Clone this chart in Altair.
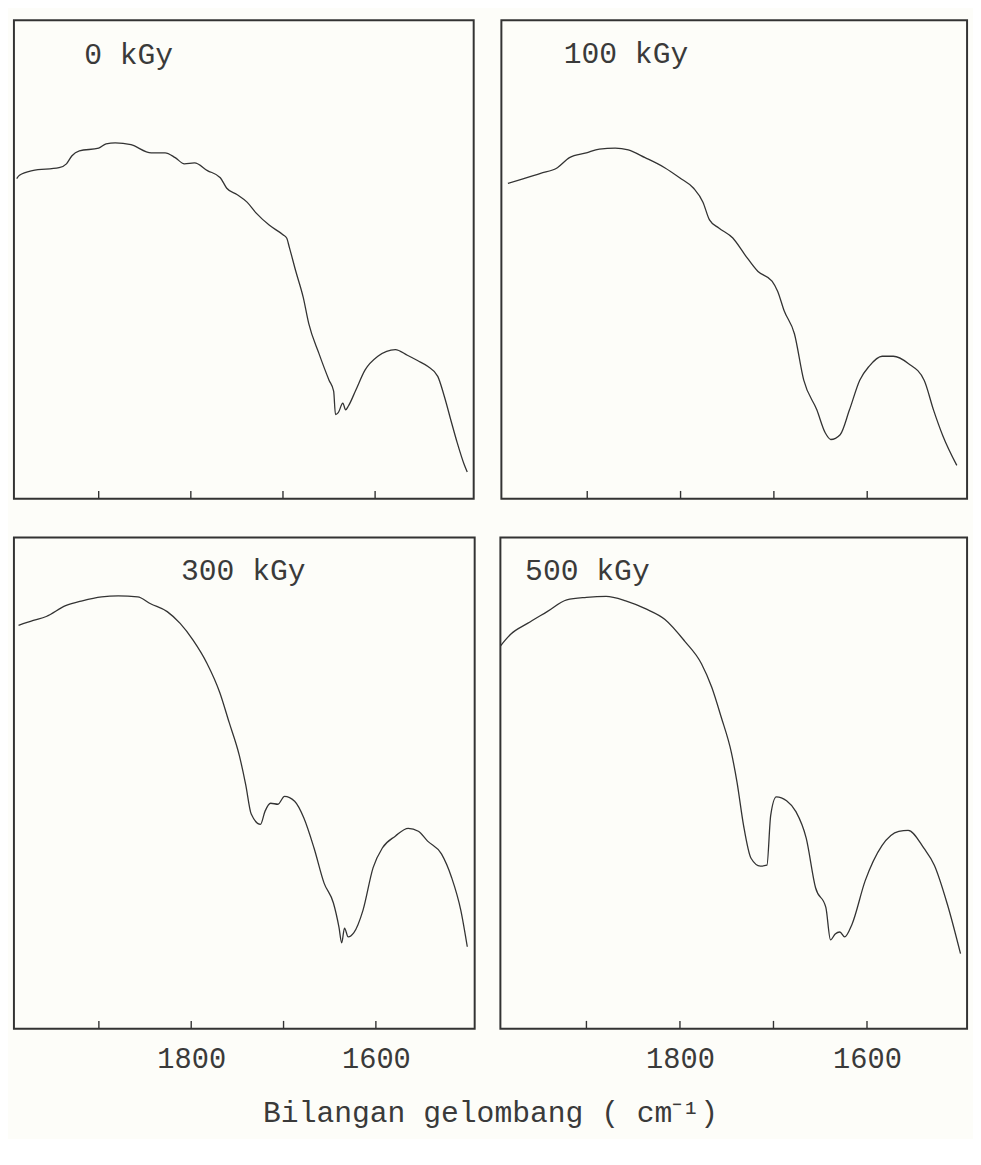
import altair as alt
import pandas as pd

# ---- data (wavenumber cm-1, relative transmittance 0-100) ----
wn_0 = [1989, 1986, 1972, 1943, 1935, 1929, 1921, 1900, 1892, 1882, 1865, 1843, 1828, 1817, 1807,
        1796, 1782, 1768, 1761, 1750, 1739, 1729, 1715, 1700, 1696, 1693, 1686, 1678, 1672, 1661,
        1650, 1645, 1643, 1640, 1635, 1632, 1629, 1621, 1611, 1597, 1578, 1565, 1554, 1543, 1532,
        1525, 1517, 1511, 1503, 1500]
t_0 = [66.9, 67.6, 68.6, 69.2, 70.0, 71.7, 72.7, 73.3, 74.2, 74.4, 74.0, 72.3, 72.3, 71.3, 70.0,
       70.2, 68.6, 67.1, 64.9, 63.6, 62.0, 59.7, 57.2, 55.2, 54.5, 52.5, 47.5, 42.1, 36.6, 30.4,
       24.8, 22.5, 17.6, 18.0, 20.0, 18.6, 19.4, 22.7, 26.9, 29.8, 31.2, 30.0, 28.9, 27.7, 25.6,
       21.5, 15.9, 11.8, 7.0, 5.6]

wn_100 = [1985, 1968, 1950, 1932, 1919, 1901, 1887, 1870, 1856, 1838, 1817, 1801, 1786, 1776, 1769,
          1759, 1744, 1731, 1717, 1702, 1696, 1689, 1678, 1668, 1654, 1645, 1639, 1629, 1619, 1608,
          1598, 1584, 1572, 1556, 1539, 1529, 1519, 1504]
t_100 = [65.9, 66.9, 68.0, 69.2, 71.3, 72.3, 73.1, 73.3, 72.9, 71.3, 69.2, 67.1, 64.9, 62.0, 58.3,
         56.6, 54.5, 51.0, 47.5, 45.5, 43.4, 39.3, 34.5, 24.8, 18.6, 13.8, 12.4, 13.4, 18.6, 24.8,
         27.7, 29.8, 29.8, 28.3, 24.8, 18.6, 13.2, 7.0]

wn_300 = [1987, 1971, 1957, 1936, 1918, 1897, 1879, 1858, 1844, 1826, 1812, 1798, 1783, 1769, 1759,
          1748, 1741, 1735, 1725, 1720, 1714, 1706, 1699, 1688, 1678, 1667, 1656, 1646, 1640, 1637,
          1634, 1630, 1624, 1614, 1603, 1593, 1579, 1565, 1554, 1544, 1529, 1518, 1508, 1501]
t_300 = [82.1, 83.1, 83.9, 86.1, 87.1, 87.9, 88.1, 87.9, 86.5, 84.9, 82.5, 79.1, 74.4, 68.4, 62.4,
         55.7, 49.7, 43.7, 41.6, 44.3, 45.9, 45.7, 47.3, 46.3, 42.9, 36.8, 29.6, 25.6, 20.7, 17.5,
         20.5, 18.7, 19.5, 24.1, 32.8, 36.8, 39.2, 40.8, 40.2, 38.2, 35.6, 30.8, 24.1, 16.7]

wn_500 = [1992, 1981, 1963, 1942, 1921, 1900, 1879, 1858, 1837, 1816, 1795, 1777, 1766, 1756, 1745,
          1739, 1732, 1724, 1714, 1707, 1703, 1697, 1686, 1676, 1665, 1655, 1644, 1639, 1634, 1629,
          1624, 1616, 1602, 1584, 1566, 1556, 1539, 1528, 1514, 1500]
t_500 = [77.9, 80.3, 82.5, 84.9, 87.3, 87.8, 88.0, 87.1, 85.5, 83.3, 78.9, 74.3, 69.5, 63.5, 56.2,
         50.2, 41.4, 34.7, 33.1, 33.3, 43.4, 47.2, 46.4, 44.2, 38.8, 28.7, 24.7, 18.1, 19.3, 19.7,
         18.7, 21.3, 30.1, 37.3, 40.2, 40.4, 36.7, 33.3, 25.3, 15.3]

tick_values = [1900, 1800, 1700, 1600]
label_values = [1800, 1600]
panel_labels = ["0 kGy", "100 kGy", "300 kGy", "500 kGy"]
x_title = "Bilangan gelombang ( cm\u207b\u00b9)"

FONT = "Liberation Mono"
INK = "#333333"
TEXT = "#3a3a3a"


def panel(wn, t, label, w, h, lx, ly, bottom):
    df = pd.DataFrame({"wn": wn, "t": t, "i": list(range(len(wn)))})
    xscale = alt.Scale(domain=[1493, 1992], reverse=True, nice=False, zero=False)
    if bottom:
        xaxis = alt.Axis(values=label_values, ticks=False, tickSize=0, domain=False, grid=False,
                         labelFont=FONT, labelFontSize=29, labelColor=TEXT, labelPadding=16,
                         format="d", title=None)
    else:
        xaxis = None
    yscale = alt.Scale(domain=[0, 100], nice=False, zero=False)
    line = alt.Chart(df).mark_line(color=INK, strokeWidth=1.3, clip=True,
                                   interpolate="monotone").encode(
        x=alt.X("wn:Q", scale=xscale, axis=xaxis),
        y=alt.Y("t:Q", scale=yscale, axis=None),
        order=alt.Order("i:Q"),
    )
    tdf = pd.DataFrame({"wn": tick_values})
    ticks = alt.Chart(tdf).mark_rule(color=INK, strokeWidth=1.4).encode(
        x=alt.X("wn:Q", scale=xscale, axis=xaxis),
        y=alt.value(h - 8),
        y2=alt.value(h),
    )
    ldf = pd.DataFrame({"label": [label]})
    text = alt.Chart(ldf).mark_text(align="left", baseline="middle", font=FONT, fontSize=30,
                                    color=TEXT).encode(
        x=alt.value(lx), y=alt.value(ly), text="label:N"
    )
    return alt.layer(line, ticks, text).properties(width=w, height=h)


p0 = panel(wn_0, t_0, panel_labels[0], 465, 484, 71, 35, False)
p100 = panel(wn_100, t_100, panel_labels[1], 471, 484, 63, 34, False)
p300 = panel(wn_300, t_300, panel_labels[2], 466, 497, 169, 34, True)
p500 = panel(wn_500, t_500, panel_labels[3], 472, 497, 25, 34, True)

top = alt.hconcat(p0, p100, spacing=26)
bottom = alt.hconcat(p300, p500, spacing=24)

chart = alt.vconcat(top, bottom, spacing=36).properties(
    title=alt.TitleParams(text=x_title, orient="bottom", anchor="middle", font=FONT,
                          fontSize=30, fontWeight="normal", color=TEXT, offset=24),
    background="#fdfdf9",
).configure_view(
    stroke=INK, strokeWidth=2
)

chart.save("out.html", embed_options={"renderer": "svg", "actions": False})
